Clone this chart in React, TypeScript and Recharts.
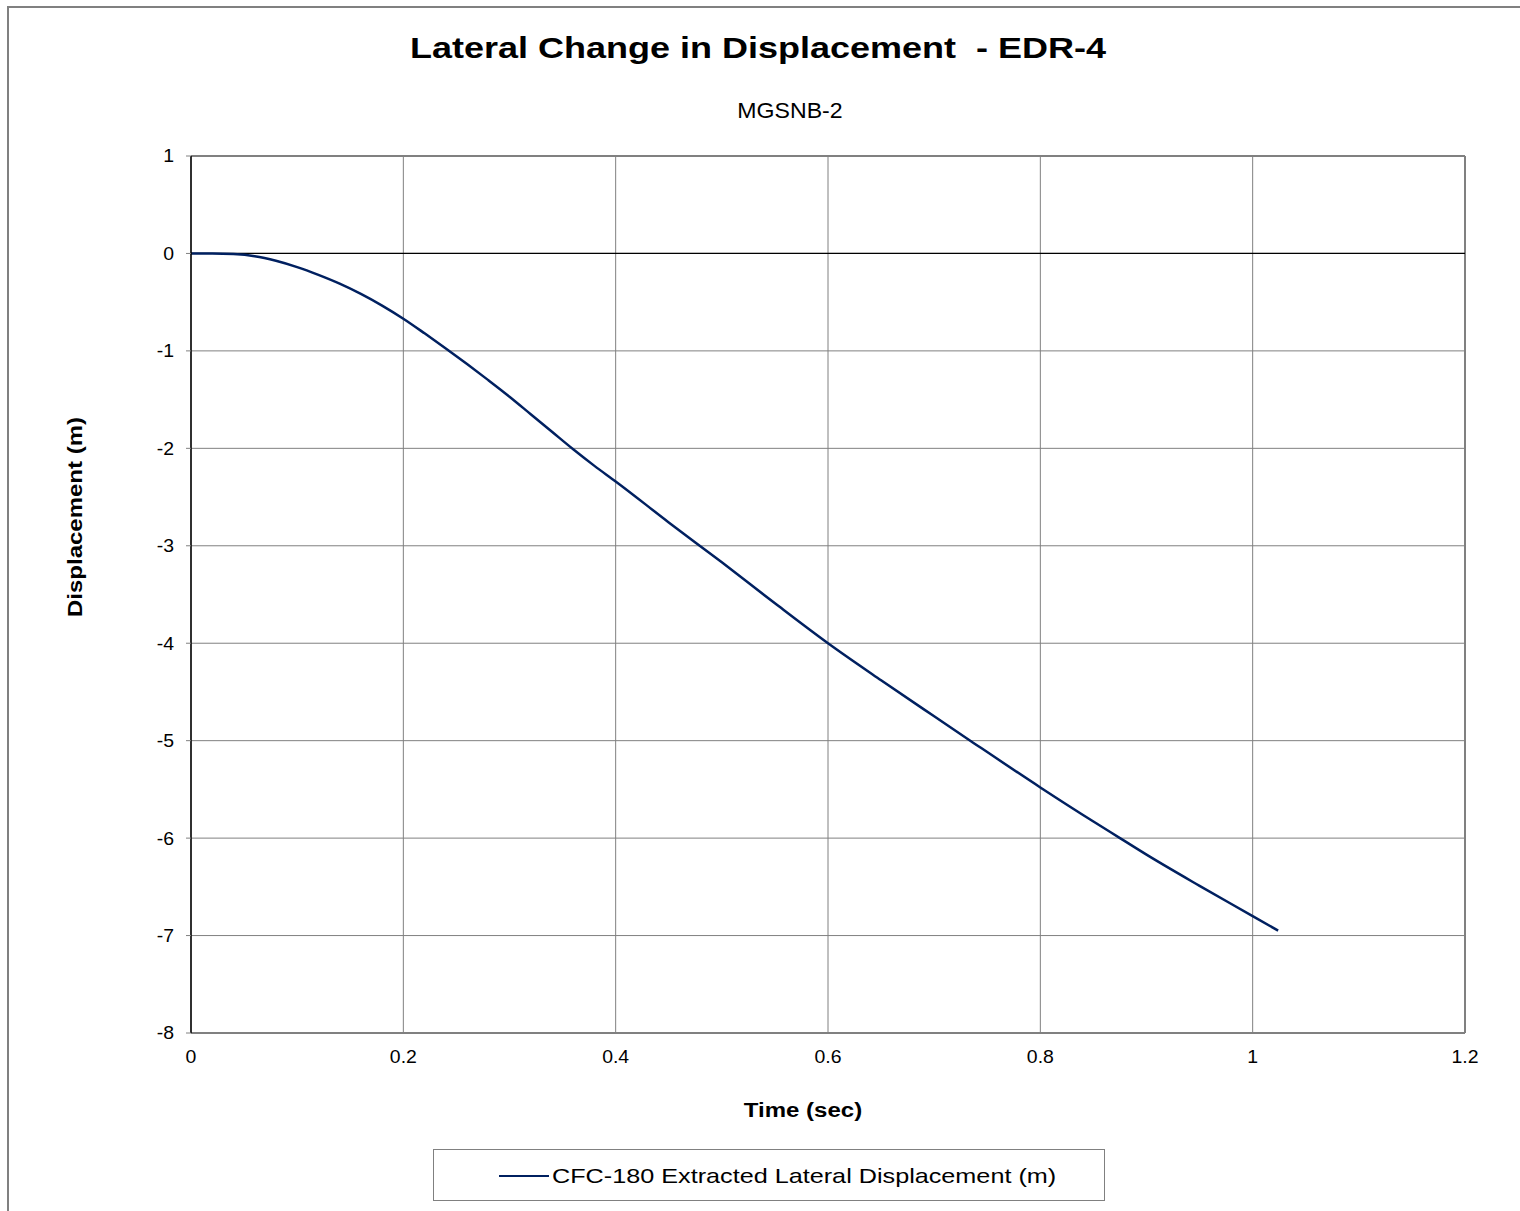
import React from 'react';
import { LineChart, Line, XAxis, YAxis, CartesianGrid, ReferenceLine } from 'recharts';

const timeSec = [
  0, 0.02, 0.04, 0.06, 0.08, 0.1, 0.12, 0.14, 0.16, 0.18, 0.2, 0.22, 0.24, 0.26, 0.28, 0.3,
  0.32, 0.34, 0.36, 0.38, 0.4, 0.45, 0.5, 0.55, 0.6, 0.65, 0.7, 0.734, 0.8, 0.85, 0.875, 0.9,
  0.95, 1.0, 1.024,
];
const lateralDisp = [
  0, 0, -0.006, -0.028, -0.075, -0.14, -0.22, -0.31, -0.415, -0.535, -0.67, -0.82, -0.975,
  -1.135, -1.3, -1.47, -1.65, -1.83, -2.01, -2.18, -2.34, -2.76, -3.17, -3.59, -4.0, -4.38,
  -4.75, -5.0, -5.48, -5.83, -6.0, -6.17, -6.49, -6.8, -6.95,
];
const xTicks = [0, 0.2, 0.4, 0.6, 0.8, 1, 1.2];
const yTicks = [-8, -7, -6, -5, -4, -3, -2, -1, 0, 1];

const seriesName = 'CFC-180 Extracted Lateral Displacement (m)';
const lineColor = '#002060';
const font = '"Liberation Sans", Arial, sans-serif';

const data = timeSec.map((t, i) => ({ t, d: lateralDisp[i] }));

const XTick = ({ x, y, payload }: any) => (
  <g transform={`translate(${x},${y}) scale(1.08,1)`}>
    <text x={0} y={0} dy="0.71em" textAnchor="middle" fontSize={18} fontFamily={font} fill="#000">
      {payload.value}
    </text>
  </g>
);

const YTick = ({ x, y, payload }: any) => (
  <g transform={`translate(${x},${y}) scale(1.08,1)`}>
    <text x={0} y={0} dy="0.36em" textAnchor="end" fontSize={18} fontFamily={font} fill="#000">
      {payload.value}
    </text>
  </g>
);

const stretched = (extra: React.CSSProperties): React.CSSProperties => ({
  position: 'absolute',
  fontFamily: font,
  color: '#000',
  whiteSpace: 'nowrap',
  lineHeight: 1,
  ...extra,
});

export default function App() {
  return (
    <div style={{ position: 'absolute', left: 0, top: 0, width: 1520, height: 1211, background: '#fff', overflow: 'hidden' }}>
      <div
        style={{
          position: 'absolute', left: 7, top: 6, width: 1513, height: 1205,
          borderTop: '2px solid #808080', borderLeft: '2px solid #808080', boxSizing: 'border-box',
        }}
      />
      <div style={stretched({ left: 758, top: 33, fontSize: 30, fontWeight: 'bold', transform: 'translateX(-50%) scaleX(1.2)' })}>
        Lateral Change in Displacement&nbsp; - EDR-4
      </div>
      <div style={stretched({ left: 790, top: 100, fontSize: 22, transform: 'translateX(-50%) scaleX(1.05)' })}>
        MGSNB-2
      </div>
      <div style={stretched({ left: 803, top: 1100, fontSize: 20, fontWeight: 'bold', transform: 'translateX(-50%) scaleX(1.2)' })}>
        Time (sec)
      </div>
      <div style={stretched({ left: 75, top: 517, fontSize: 20, fontWeight: 'bold', transform: 'translate(-50%,-50%) rotate(-90deg) scaleX(1.2)' })}>
        Displacement (m)
      </div>

      <div style={{ position: 'absolute', left: 0, top: 0 }}>
        <LineChart width={1520} height={1211} data={data} margin={{ top: 156, right: 55, left: 131, bottom: 118 }}>
          <CartesianGrid stroke="#808080" strokeWidth={1} />
          <XAxis
            dataKey="t"
            type="number"
            domain={[0, 1.2]}
            ticks={xTicks}
            height={60}
            tickLine={false}
            tickSize={6}
            tickMargin={11}
            axisLine={{ stroke: '#808080', strokeWidth: 2 }}
            tick={<XTick />}
          />
          <YAxis
            type="number"
            domain={[-8, 1]}
            ticks={yTicks}
            width={60}
            tickSize={5}
            tickMargin={12}
            tickLine={{ stroke: '#808080' }}
            axisLine={{ stroke: '#000', strokeWidth: 1.5 }}
            tick={<YTick />}
          />
          <ReferenceLine y={1} stroke="#808080" strokeWidth={2} />
          <ReferenceLine x={1.2} stroke="#808080" strokeWidth={2} />
          <ReferenceLine y={0} stroke="#000" strokeWidth={1.2} />
          <Line
            type="monotone"
            dataKey="d"
            name={seriesName}
            stroke={lineColor}
            strokeWidth={2.5}
            dot={false}
            isAnimationActive={false}
          />
        </LineChart>
      </div>

      <div
        style={{
          position: 'absolute', left: 433, top: 1149, width: 672, height: 52,
          border: '1px solid #808080', boxSizing: 'border-box', background: '#fff',
        }}
      >
        <div style={{ position: 'absolute', left: 65, top: 25, width: 50, height: 0, borderTop: `2.5px solid ${lineColor}` }} />
        <div style={stretched({ left: 118, top: 15, fontSize: 21, transform: 'scaleX(1.2)', transformOrigin: 'left center' })}>
          {seriesName}
        </div>
      </div>
    </div>
  );
}
